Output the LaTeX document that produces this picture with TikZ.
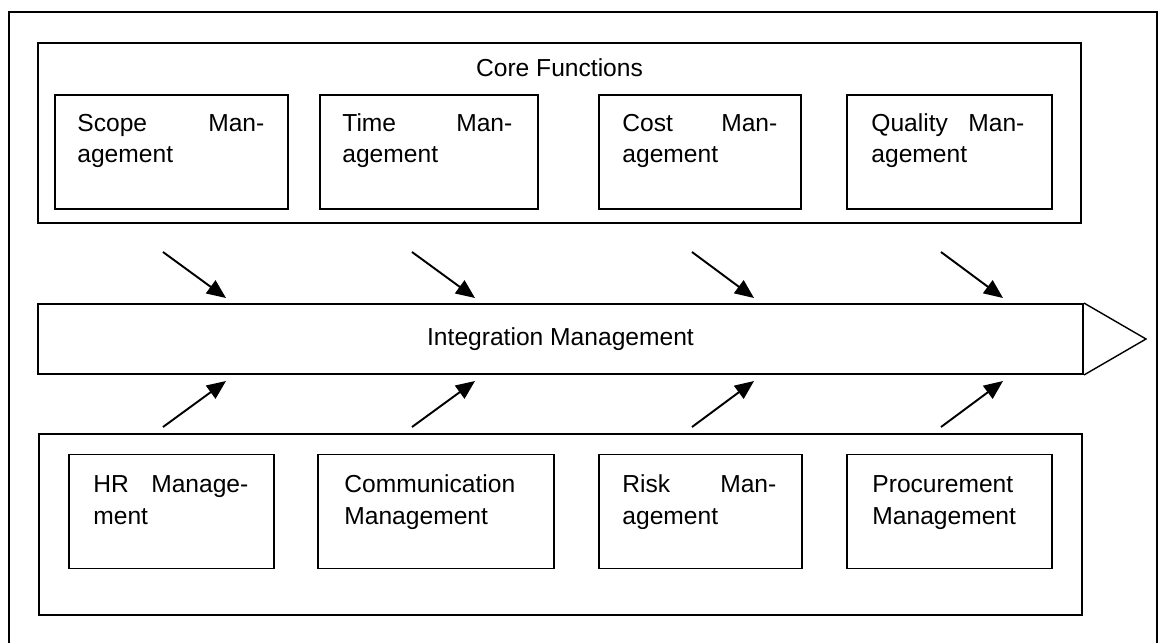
\documentclass[tikz,border=0pt]{standalone}
\usepackage{fontspec}
\setmainfont{Liberation Sans}
\usetikzlibrary{arrows.meta,positioning}

\begin{document}
\begin{tikzpicture}[node distance=5cm,
		every node/.style={font=\fontsize{14}{18}\selectfont},
		boxline/.style={draw, line width=1.1pt},
		areabox/.style={boxline, minimum width=20.86cm, minimum height=3.6cm},
		fnbox/.style={boxline, minimum width=#1, minimum height=2.28cm},
		fntext/.style={anchor=base west, inner sep=0pt, text width=#1, align=left},
		feed/.style={draw, line width=1.1pt, -{Triangle[length=0.38cm,width=0.32cm]}}]
				\useasboundingbox (0,0) rectangle (23.22,12.86);
				\coordinate (frameSW) at (0.18,0);
				\coordinate (frameNE) at (23.14,12.62);
				\draw[boxline] (frameSW) |- (frameNE) -- (frameNE |- frameSW);

				\node[areabox] (core) at (11.19,10.2) {};
				\node (coreTitle) [anchor=base] at ([yshift=-0.68cm]core.north) {Core Functions};
				\node[fnbox=4.66cm] (scope) at (3.43,9.82) {};
				\node[fnbox=4.36cm] (time) [right of=scope, xshift=0.15cm] {};
				\node[fnbox=4.04cm] (cost) [right of=time, xshift=0.42cm] {};
				\node[fnbox=4.1cm] (quality) [right of=cost, xshift=-0.01cm] {};
				\node[fntext=3.74cm] (scopeText) at ([xshift=0.46cm,yshift=-0.74cm]scope.north west) {Scope\hfill Man-\\agement};
				\node[fntext=3.4cm] (timeText) at ([xshift=0.46cm,yshift=-0.74cm]time.north west) {Time\hfill Man-\\agement};
				\node[fntext=3.1cm] (costText) at ([xshift=0.48cm,yshift=-0.74cm]cost.north west) {Cost\hfill Man-\\agement};
				\node[fntext=3.06cm] (qualityText) at ([xshift=0.5cm,yshift=-0.74cm]quality.north west) {Quality\hfill Man-\\agement};

				\node[boxline, minimum width=20.9cm, minimum height=1.4cm] (integration) at (11.21,6.08) {Integration Management};
				\coordinate (tip) at ([xshift=1.24cm]integration.east);
				\draw[line width=0.8pt] (integration.north east) -- (tip) -- (integration.south east);

				\node[areabox, minimum height=3.62cm] (support) at (11.21,2.37) {};
				\node[fnbox=4.1cm] (hr) at (3.43,2.63) {};
				\node[fnbox=4.72cm] (comm) [right of=hr, xshift=0.29cm] {};
				\node[fnbox=4.06cm] (risk) [right of=comm, xshift=0.29cm] {};
				\node[fnbox=4.1cm] (procurement) [right of=risk, xshift=-0.02cm] {};
				\node[fntext=3.1cm] (hrText) at ([xshift=0.5cm,yshift=-0.78cm]hr.north west) {HR\hfill Manage-\\ment};
				\node[fntext=4cm] (commText) at ([xshift=0.54cm,yshift=-0.78cm]comm.north west) {Communication\\Management};
				\node[fntext=3.08cm] (riskText) at ([xshift=0.48cm,yshift=-0.78cm]risk.north west) {Risk\hfill Man-\\agement};
				\node[fntext=3.8cm] (procurementText) at ([xshift=0.52cm,yshift=-0.78cm]procurement.north west) {Procurement\\Management};

				% feeds into the integration bar
				\coordinate (cs1) at (3.26,7.82);  \coordinate (ct1) at (4.52,6.9);
				\coordinate (cs2) at (8.24,7.82);  \coordinate (ct2) at (9.5,6.9);
				\coordinate (cs3) at (13.84,7.82); \coordinate (ct3) at (15.08,6.9);
				\coordinate (cs4) at (18.82,7.82); \coordinate (ct4) at (20.06,6.9);
				\coordinate (ss1) at (3.26,4.32);  \coordinate (st1) at (4.52,5.24);
				\coordinate (ss2) at (8.24,4.32);  \coordinate (st2) at (9.5,5.24);
				\coordinate (ss3) at (13.84,4.32); \coordinate (st3) at (15.08,5.24);
				\coordinate (ss4) at (18.82,4.32); \coordinate (st4) at (20.06,5.24);

				\path
				(cs1) edge[feed] (ct1)
				(cs2) edge[feed] (ct2)
				(cs3) edge[feed] (ct3)
				(cs4) edge[feed] (ct4)
				(ss1) edge[feed] (st1)
				(ss2) edge[feed] (st2)
				(ss3) edge[feed] (st3)
				(ss4) edge[feed] (st4);
			\end{tikzpicture}
\end{document}
